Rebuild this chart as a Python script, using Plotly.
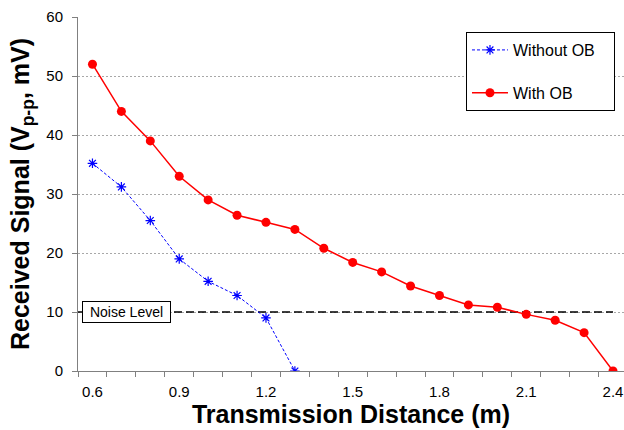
import plotly.graph_objects as go

dist_with = [0.6, 0.7, 0.8, 0.9, 1.0, 1.1, 1.2, 1.3, 1.4, 1.5, 1.6, 1.7, 1.8, 1.9, 2.0, 2.1, 2.2, 2.3, 2.4]
sig_with = [52.0, 44.0, 39.0, 33.0, 29.0, 26.4, 25.2, 24.0, 20.8, 18.4, 16.8, 14.4, 12.8, 11.2, 10.8, 9.6, 8.6, 6.5, 0.0]
dist_without = [0.6, 0.7, 0.8, 0.9, 1.0, 1.1, 1.2, 1.3]
sig_without = [35.2, 31.2, 25.5, 19.0, 15.2, 12.8, 9.0, 0.0]
noise_x = [0.55, 2.4]
noise_y = [10, 10]
x_ticks = [0.6, 0.9, 1.2, 1.5, 1.8, 2.1, 2.4]
x_tick_text = ["0.6", "0.9", "1.2", "1.5", "1.8", "2.1", "2.4"]

FONT = "Arial, Liberation Sans, sans-serif"
PAD = "&nbsp;&nbsp;&nbsp;"

fig = go.Figure()
fig.add_trace(go.Scatter(
    x=noise_x, y=noise_y, mode="lines", showlegend=False,
    line=dict(color="black", width=1.5, dash="8px,4px"), hoverinfo="skip"))
fig.add_trace(go.Scatter(
    x=dist_without, y=sig_without, mode="lines+markers", name="Without OB" + PAD,
    legendgroup="a",
    line=dict(color="#0000FF", width=1, dash="3px,2px"),
    marker=dict(symbol="asterisk-open", size=8, color="#0000FF",
                line=dict(color="#0000FF", width=1.2))))
fig.add_trace(go.Scatter(
    x=dist_with, y=sig_with, mode="lines+markers", name="With OB",
    legendgroup="b",
    line=dict(color="#FF0000", width=1.5),
    marker=dict(symbol="circle", size=9, color="#FF0000")))

fig.add_annotation(x=0.5638, y=10, xref="x", yref="y", text="Noise Level",
                   showarrow=False, xanchor="left", yanchor="middle",
                   width=83, height=16, align="center", valign="middle",
                   font=dict(family=FONT, size=14, color="black"),
                   bgcolor="white", bordercolor="black", borderwidth=1,
                   borderpad=2)

fig.update_layout(
    width=624, height=430,
    margin=dict(l=78, r=0, t=17, b=59),
    paper_bgcolor="white", plot_bgcolor="white",
    font=dict(family=FONT, size=15, color="black"),
    legend=dict(x=0.7106, y=0.9576, xanchor="left", yanchor="top",
                bordercolor="black", borderwidth=1, bgcolor="white",
                font=dict(family=FONT, size=16), tracegroupgap=19,
                itemwidth=36),
    xaxis=dict(
        range=[0.55, 2.438], tickmode="array", tickvals=x_ticks,
        ticktext=x_tick_text, ticks="", showgrid=False, zeroline=False,
        showline=True, linecolor="#808080", linewidth=1, automargin=False,
        ticklabelstandoff=7,
        tickfont=dict(family=FONT, size=15, color="black"),
        minor=dict(tick0=0.55, dtick=0.1, ticks="outside", ticklen=5,
                   tickcolor="#808080", showgrid=False),
        title=dict(text="<b>Transmission Distance (m)</b>",
                   font=dict(family=FONT, size=25, color="black"),
                   standoff=5)),
    yaxis=dict(
        range=[0, 60], dtick=10, ticks="outside", ticklen=5,
        tickcolor="#808080", showline=True, linecolor="#808080",
        linewidth=1, zeroline=False, showgrid=True, gridcolor="#A8A8A8",
        griddash="2px,2px", gridwidth=1, automargin=False,
        ticklabelstandoff=6,
        tickfont=dict(family=FONT, size=15, color="black"),
        title=dict(text="<b>Received Signal (V<sub>p-p</sub>, mV)</b>",
                   font=dict(family=FONT, size=25, color="black"),
                   standoff=9)),
)

fig.write_html("out.html", config={"displayModeBar": False},
               post_script="document.body.style.margin='0';")
